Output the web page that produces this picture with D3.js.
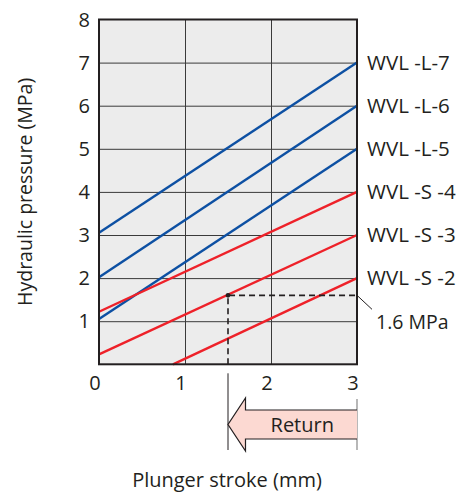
<!DOCTYPE html>
<html>
<head>
<meta charset="utf-8">
<script src="https://cdn.jsdelivr.net/npm/d3@7"></script>
<style>
  html, body { margin: 0; padding: 0; background: #fff; }
  svg text { font-family: "Open Sans", "Noto Sans", sans-serif; fill: #231f20; }
</style>
</head>
<body>
<svg id="chart" width="459" height="492"></svg>
<script>
// data
const seriesNames = ['WVL -L-7', 'WVL -L-6', 'WVL -L-5', 'WVL -S -4', 'WVL -S -3', 'WVL -S -2'];
const seriesType = ['L', 'L', 'L', 'S', 'S', 'S'];
const startPts = [[0, 3.05], [0, 2.02], [0, 1.05], [0, 1.22], [0, 0.23], [0.86, 0]];
const endPts = [[3, 7], [3, 6], [3, 5], [3, 4], [3, 3], [3, 2]];
const xTicks = [0, 1, 2, 3];
const yTicks = [1, 2, 3, 4, 5, 6, 7, 8];
const markPt = [1.5, 1.6];
const markLabel = '1.6 MPa';

const svg = d3.select('#chart');
const m = { left: 99, top: 19.5, right: 357, bottom: 364.3 };
const x = d3.scaleLinear().domain([0, 3]).range([m.left, m.right]);
const y = d3.scaleLinear().domain([0, 8]).range([m.bottom, m.top]);
const COL = { L: '#0d50a3', S: '#ee2129' };

// plot background
svg.append('rect')
  .attr('x', m.left).attr('y', m.top)
  .attr('width', m.right - m.left).attr('height', m.bottom - m.top)
  .attr('fill', '#ececec');

// grid
svg.append('g')
  .attr('transform', `translate(0,${m.bottom})`)
  .call(d3.axisBottom(x).tickValues([1, 2]).tickSize(-(m.bottom - m.top)).tickFormat(''))
  .call(g => g.select('.domain').remove())
  .call(g => g.selectAll('line').attr('stroke', '#3a3a3a').attr('stroke-width', 1));
svg.append('g')
  .attr('transform', `translate(${m.left},0)`)
  .call(d3.axisLeft(y).tickValues([1, 2, 3, 4, 5, 6, 7]).tickSize(-(m.right - m.left)).tickFormat(''))
  .call(g => g.select('.domain').remove())
  .call(g => g.selectAll('line').attr('stroke', '#3a3a3a').attr('stroke-width', 1));

// series lines
const line = d3.line().x(d => x(d[0])).y(d => y(d[1]));
seriesNames.forEach((name, i) => {
  svg.append('path')
    .datum([startPts[i], endPts[i]])
    .attr('d', line)
    .attr('fill', 'none')
    .attr('stroke', COL[seriesType[i]])
    .attr('stroke-width', 2.4);
  svg.append('text')
    .attr('x', m.right + 10).attr('y', y(endPts[i][1]))
    .attr('dy', '0.35em')
    .style('font-size', '20.5px')
    .text(name);
});

// dashed marker
svg.append('path')
  .attr('d', `M${x(markPt[0])},${y(0)}V${y(markPt[1])}H${x(3)}`)
  .attr('fill', 'none').attr('stroke', '#231f20')
  .attr('stroke-width', 1.6).attr('stroke-dasharray', '6,4');
svg.append('circle')
  .attr('cx', x(markPt[0])).attr('cy', y(markPt[1])).attr('r', 2.3)
  .attr('fill', '#231f20');
svg.append('line')
  .attr('x1', x(3)).attr('y1', y(markPt[1]))
  .attr('x2', x(3) + 15).attr('y2', y(markPt[1]) + 14)
  .attr('stroke', '#231f20').attr('stroke-width', 1);
svg.append('text')
  .attr('x', x(3) + 19).attr('y', y(markPt[1]) + 27)
  .attr('dy', '0.35em')
  .style('font-size', '19.5px')
  .text(markLabel);

// border
svg.append('rect')
  .attr('x', m.left).attr('y', m.top)
  .attr('width', m.right - m.left).attr('height', m.bottom - m.top)
  .attr('fill', 'none').attr('stroke', '#231f20').attr('stroke-width', 2);

// tick labels
svg.append('g').selectAll('text').data(yTicks).join('text')
  .attr('x', m.left - 9).attr('y', d => y(d))
  .attr('dy', '0.35em').attr('text-anchor', 'end')
  .style('font-size', '20px')
  .text(d => d);
svg.append('g').selectAll('text').data(xTicks).join('text')
  .attr('x', d => x(d) - 4).attr('y', m.bottom + 19)
  .attr('dy', '0.35em').attr('text-anchor', 'middle')
  .style('font-size', '20px')
  .text(d => d);

// axis titles
svg.append('text')
  .attr('transform', `translate(25,${(m.top + m.bottom) / 2}) rotate(-90)`)
  .attr('text-anchor', 'middle').attr('dy', '0.35em')
  .style('font-size', '19.5px')
  .text('Hydraulic pressure (MPa)');
svg.append('text')
  .attr('x', 227).attr('y', 480)
  .attr('text-anchor', 'middle').attr('dy', '0.35em')
  .style('font-size', '20px')
  .text('Plunger stroke (mm)');

// return arrow
const ax0 = x(markPt[0]), ax1 = x(3);
svg.append('line')
  .attr('x1', ax0).attr('x2', ax0).attr('y1', m.bottom + 9).attr('y2', 450)
  .attr('stroke', '#231f20').attr('stroke-width', 1);
svg.append('line')
  .attr('x1', ax1).attr('x2', ax1).attr('y1', 399).attr('y2', 450)
  .attr('stroke', '#888').attr('stroke-width', 1.2);
const headX = ax0 + 17.5;
svg.append('path')
  .attr('d', `M${ax1},410 H${headX} V398 L${ax0},424.5 L${headX},451 V439 H${ax1}`)
  .attr('fill', '#fcd9d2').attr('stroke', '#231f20').attr('stroke-width', 1.2);
svg.append('text')
  .attr('x', (headX + ax1) / 2 + 1).attr('y', 425)
  .attr('text-anchor', 'middle').attr('dy', '0.35em')
  .style('font-size', '20px')
  .text('Return');
</script>
</body>
</html>
